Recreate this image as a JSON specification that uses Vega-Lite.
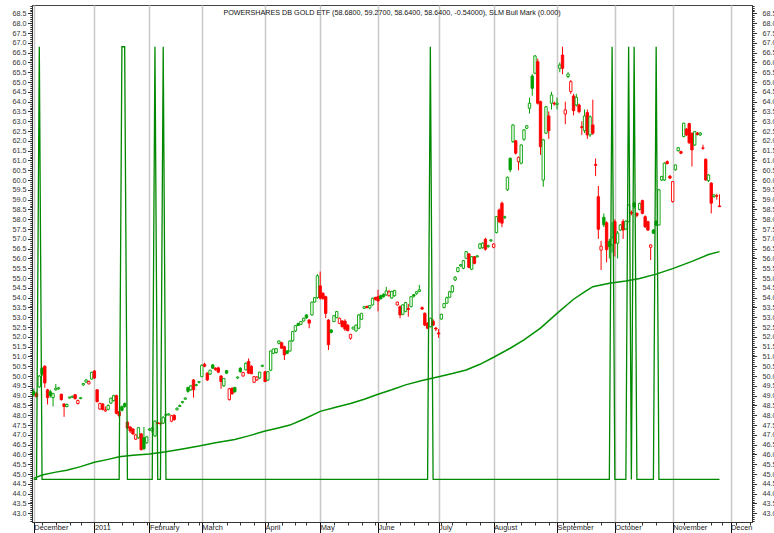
{
  "$schema": "https://vega.github.io/schema/vega-lite/v6.json",
  "width": 720,
  "height": 517,
  "autosize": {"type": "none"},
  "padding": {"left": 32, "top": 5, "right": 22, "bottom": 11},
  "background": "white",
  "config": {
    "view": {"stroke": "#444", "strokeWidth": 1},
    "scale": {"continuousPadding": 0},
    "axis": {"labelFont": "Liberation Sans", "labelColor": "#333", "domainColor": "#333", "tickColor": "#333", "grid": false}
  },
  "title": {"text": "POWERSHARES DB GOLD ETF (58.6800, 59.2700, 58.6400, 58.6400, -0.54000), SLM Bull Mark (0.000)", "anchor": "middle", "frame": "group", "font": "Liberation Sans", "fontSize": 7.2, "fontWeight": "normal", "color": "#111", "baseline": "top", "offset": -11.5},
  "datasets": {
    "candles": [
      {"i":0,"o":49.2,"h":49.35,"l":48.95,"c":49.05},{"i":1,"o":49.1,"h":49.2,"l":48.9,"c":48.95},{"i":2,"o":49.45,"h":50.05,"l":49.4,"c":50.0},{"i":3,"o":50.4,"h":50.45,"l":50.0,"c":50.1},{"i":4,"o":50.5,"h":50.55,"l":49.4,"c":49.65},
      {"i":5,"o":49.3,"h":49.35,"l":48.55,"c":48.9},{"i":6,"o":49.2,"h":49.3,"l":48.9,"c":49.0},{"i":7,"o":48.9,"h":49.15,"l":48.45,"c":49.1},{"i":8,"o":49.3,"h":49.6,"l":49.25,"c":49.38},{"i":9,"o":49.35,"h":49.45,"l":49.3,"c":49.4},
      {"i":10,"o":49.07,"h":49.1,"l":48.75,"c":48.8},{"i":11,"o":48.58,"h":48.6,"l":47.92,"c":48.45},{"i":12,"o":48.45,"h":48.6,"l":48.4,"c":48.55},{"i":13,"o":48.88,"h":48.95,"l":48.85,"c":48.93},{"i":14,"o":48.92,"h":49.0,"l":48.88,"c":48.97},
      {"i":15,"o":49.05,"h":49.08,"l":48.8,"c":48.85},{"i":16,"o":48.6,"h":48.8,"l":48.55,"c":48.75},{"i":17,"o":48.85,"h":48.92,"l":48.82,"c":48.9},{"i":18,"o":49.55,"h":49.65,"l":49.5,"c":49.62},{"i":19,"o":49.7,"h":49.85,"l":49.65,"c":49.8},
      {"i":20,"o":49.6,"h":49.78,"l":49.58,"c":49.72},{"i":21,"o":49.85,"h":50.22,"l":49.82,"c":50.19},{"i":22,"o":50.26,"h":50.3,"l":49.85,"c":49.9},{"i":23,"o":49.3,"h":49.32,"l":48.65,"c":48.7},{"i":24,"o":48.32,"h":48.65,"l":48.28,"c":48.6},
      {"i":25,"o":48.58,"h":48.62,"l":48.25,"c":48.3},{"i":26,"o":48.22,"h":48.45,"l":48.18,"c":48.28},{"i":27,"o":48.3,"h":48.55,"l":48.25,"c":48.5},{"i":28,"o":48.62,"h":48.9,"l":48.58,"c":48.87},{"i":29,"o":48.75,"h":49.05,"l":48.7,"c":49.0},
      {"i":30,"o":49.0,"h":49.05,"l":48.05,"c":48.1},{"i":31,"o":48.18,"h":48.2,"l":47.9,"c":47.98},{"i":32,"o":48.44,"h":48.5,"l":48.2,"c":48.25},{"i":33,"o":48.6,"h":48.65,"l":48.38,"c":48.45},{"i":34,"o":47.65,"h":47.7,"l":47.3,"c":47.35},
      {"i":35,"o":47.4,"h":47.45,"l":47.1,"c":47.2},{"i":36,"o":47.3,"h":47.35,"l":47.0,"c":47.05},{"i":37,"o":46.78,"h":47.05,"l":46.75,"c":47.0},{"i":38,"o":46.85,"h":47.4,"l":46.8,"c":47.37},{"i":39,"o":47.05,"h":47.1,"l":46.2,"c":46.25},
      {"i":40,"o":46.85,"h":47.4,"l":46.22,"c":46.3},{"i":41,"o":46.6,"h":46.95,"l":46.55,"c":46.9},{"i":42,"o":47.25,"h":47.35,"l":47.2,"c":47.3},{"i":43,"o":47.2,"h":47.4,"l":47.1,"c":47.35},{"i":44,"o":46.95,"h":47.75,"l":46.9,"c":47.7},
      {"i":45,"o":47.62,"h":47.65,"l":47.55,"c":47.58},{"i":46,"o":47.6,"h":47.62,"l":47.52,"c":47.56},{"i":47,"o":47.6,"h":47.95,"l":47.55,"c":47.9},{"i":48,"o":48.0,"h":48.08,"l":47.95,"c":48.05},{"i":49,"o":48.02,"h":48.1,"l":47.98,"c":48.07},
      {"i":50,"o":47.7,"h":48.02,"l":47.65,"c":47.98},{"i":51,"o":48.0,"h":48.05,"l":47.72,"c":47.78},{"i":52,"o":48.28,"h":48.4,"l":48.25,"c":48.36},{"i":53,"o":48.45,"h":48.55,"l":48.42,"c":48.5},{"i":54,"o":48.65,"h":48.72,"l":48.6,"c":48.7},
      {"i":55,"o":48.82,"h":48.92,"l":48.8,"c":48.88},{"i":56,"o":49.42,"h":49.45,"l":49.15,"c":49.22},{"i":57,"o":49.3,"h":49.55,"l":49.25,"c":49.5},{"i":58,"o":49.8,"h":49.85,"l":48.9,"c":49.3},{"i":59,"o":49.52,"h":49.6,"l":49.48,"c":49.56},
      {"i":60,"o":49.68,"h":49.75,"l":49.62,"c":49.72},{"i":61,"o":49.97,"h":50.6,"l":49.95,"c":50.55},{"i":62,"o":50.6,"h":50.68,"l":50.45,"c":50.5},{"i":63,"o":50.15,"h":50.2,"l":49.75,"c":49.8},{"i":64,"o":50.1,"h":50.32,"l":50.05,"c":50.3},
      {"i":65,"o":50.57,"h":50.62,"l":50.38,"c":50.4},{"i":66,"o":50.4,"h":50.45,"l":50.28,"c":50.32},{"i":67,"o":50.42,"h":50.48,"l":50.15,"c":50.2},{"i":68,"o":50.0,"h":50.05,"l":49.35,"c":49.72},{"i":69,"o":49.5,"h":49.9,"l":49.45,"c":49.88},
      {"i":70,"o":50.28,"h":50.3,"l":50.1,"c":50.15},{"i":71,"o":48.8,"h":49.4,"l":48.75,"c":49.35},{"i":72,"o":49.38,"h":49.42,"l":49.05,"c":49.1},{"i":73,"o":49.42,"h":49.45,"l":49.15,"c":49.2},{"i":74,"o":49.9,"h":49.98,"l":49.85,"c":49.95},
      {"i":75,"o":50.4,"h":50.45,"l":50.18,"c":50.22},{"i":76,"o":50.0,"h":50.22,"l":49.98,"c":50.18},{"i":77,"o":50.32,"h":50.7,"l":50.3,"c":50.65},{"i":78,"o":50.75,"h":50.9,"l":50.1,"c":50.15},{"i":79,"o":50.5,"h":50.55,"l":50.1,"c":50.12},
      {"i":80,"o":49.68,"h":50.0,"l":49.65,"c":49.97},{"i":81,"o":49.8,"h":50.0,"l":49.75,"c":49.95},{"i":82,"o":49.9,"h":50.22,"l":49.85,"c":50.2},{"i":83,"o":50.5,"h":50.58,"l":50.45,"c":50.55},{"i":84,"o":50.22,"h":50.25,"l":49.7,"c":49.72},
      {"i":85,"o":49.8,"h":50.25,"l":49.75,"c":50.22},{"i":86,"o":50.3,"h":51.3,"l":50.25,"c":51.28},{"i":87,"o":51.16,"h":51.4,"l":51.12,"c":51.38},{"i":88,"o":51.2,"h":51.42,"l":51.15,"c":51.4},{"i":89,"o":51.67,"h":51.82,"l":51.62,"c":51.79},
      {"i":90,"o":51.7,"h":51.75,"l":51.4,"c":51.42},{"i":91,"o":51.5,"h":51.55,"l":50.82,"c":51.08},{"i":92,"o":51.28,"h":51.32,"l":51.12,"c":51.16},{"i":93,"o":51.28,"h":51.82,"l":51.25,"c":51.79},{"i":94,"o":51.8,"h":52.3,"l":51.75,"c":52.27},
      {"i":95,"o":52.3,"h":52.6,"l":52.25,"c":52.57},{"i":96,"o":52.68,"h":52.72,"l":52.55,"c":52.58},{"i":97,"o":52.64,"h":52.8,"l":52.6,"c":52.78},{"i":98,"o":52.81,"h":52.98,"l":52.78,"c":52.95},{"i":99,"o":53.12,"h":53.15,"l":52.92,"c":52.97},
      {"i":100,"o":52.86,"h":52.9,"l":52.44,"c":52.7},{"i":101,"o":53.12,"h":53.8,"l":53.08,"c":53.77},{"i":102,"o":53.78,"h":54.02,"l":53.75,"c":54.0},{"i":103,"o":54.0,"h":55.2,"l":53.95,"c":55.12},{"i":104,"o":54.6,"h":55.33,"l":53.9,"c":53.98},
      {"i":105,"o":54.22,"h":54.28,"l":53.9,"c":53.95},{"i":106,"o":54.05,"h":54.1,"l":52.96,"c":53.2},{"i":107,"o":52.86,"h":52.9,"l":51.33,"c":51.6},{"i":108,"o":52.35,"h":52.4,"l":52.18,"c":52.23},{"i":109,"o":52.78,"h":53.1,"l":52.75,"c":53.08},
      {"i":110,"o":52.98,"h":53.32,"l":52.95,"c":53.29},{"i":111,"o":52.69,"h":52.98,"l":52.65,"c":52.95},{"i":112,"o":52.81,"h":52.85,"l":52.48,"c":52.52},{"i":113,"o":52.8,"h":52.9,"l":52.3,"c":52.4},{"i":114,"o":52.6,"h":52.65,"l":52.28,"c":52.32},
      {"i":115,"o":51.93,"h":52.15,"l":51.85,"c":52.13},{"i":116,"o":52.4,"h":52.52,"l":52.38,"c":52.5},{"i":117,"o":52.3,"h":52.62,"l":52.28,"c":52.6},{"i":118,"o":52.44,"h":53.15,"l":52.4,"c":53.12},{"i":119,"o":52.9,"h":53.22,"l":52.88,"c":53.2},
      {"i":120,"o":53.46,"h":53.56,"l":53.42,"c":53.54},{"i":121,"o":53.55,"h":53.6,"l":53.45,"c":53.5},{"i":122,"o":53.48,"h":53.62,"l":53.4,"c":53.6},{"i":123,"o":53.63,"h":54.0,"l":53.6,"c":53.97},{"i":124,"o":54.0,"h":54.05,"l":53.85,"c":53.92},
      {"i":125,"o":54.05,"h":54.4,"l":53.3,"c":53.83},{"i":126,"o":54.1,"h":54.15,"l":53.9,"c":53.95},{"i":127,"o":54.17,"h":54.22,"l":54.0,"c":54.05},{"i":128,"o":54.14,"h":54.55,"l":54.1,"c":54.34},{"i":129,"o":54.1,"h":54.4,"l":54.05,"c":54.3},
      {"i":130,"o":53.98,"h":54.35,"l":53.95,"c":54.32},{"i":131,"o":54.1,"h":54.4,"l":54.05,"c":54.36},{"i":132,"o":53.63,"h":53.8,"l":53.6,"c":53.77},{"i":133,"o":53.54,"h":53.6,"l":52.95,"c":53.12},{"i":134,"o":53.15,"h":53.66,"l":53.1,"c":53.63},
      {"i":135,"o":53.3,"h":53.78,"l":53.25,"c":53.75},{"i":136,"o":53.45,"h":53.68,"l":53.03,"c":53.4},{"i":137,"o":53.54,"h":54.08,"l":53.5,"c":54.05},{"i":138,"o":54.15,"h":54.18,"l":54.0,"c":54.08},{"i":139,"o":54.2,"h":54.33,"l":54.15,"c":54.3},
      {"i":140,"o":54.32,"h":54.65,"l":54.28,"c":54.4},{"i":141,"o":53.49,"h":53.55,"l":53.38,"c":53.42},{"i":142,"o":53.2,"h":53.25,"l":52.55,"c":52.6},{"i":143,"o":52.7,"h":52.75,"l":52.4,"c":52.44},{"i":144,"o":52.52,"h":52.98,"l":52.48,"c":52.95},
      {"i":145,"o":52.8,"h":52.9,"l":52.55,"c":52.6},{"i":146,"o":52.45,"h":52.5,"l":52.3,"c":52.4},{"i":147,"o":52.2,"h":52.4,"l":51.95,"c":52.15},{"i":148,"o":52.91,"h":53.18,"l":52.88,"c":53.15},{"i":149,"o":53.5,"h":53.72,"l":53.45,"c":53.7},
      {"i":150,"o":53.72,"h":54.05,"l":53.68,"c":54.0},{"i":151,"o":54.02,"h":54.35,"l":53.98,"c":54.3},{"i":152,"o":54.3,"h":54.65,"l":54.25,"c":54.6},{"i":153,"o":54.9,"h":55.1,"l":54.85,"c":55.04},{"i":154,"o":55.33,"h":55.56,"l":55.3,"c":55.53},
      {"i":155,"o":55.62,"h":55.72,"l":55.58,"c":55.68},{"i":156,"o":55.5,"h":55.92,"l":55.45,"c":55.89},{"i":157,"o":56.01,"h":56.38,"l":55.98,"c":56.35},{"i":158,"o":56.23,"h":56.28,"l":55.5,"c":55.55},{"i":159,"o":55.45,"h":56.12,"l":55.4,"c":56.09},
      {"i":160,"o":56.09,"h":56.12,"l":55.7,"c":55.75},{"i":161,"o":56.08,"h":56.18,"l":56.05,"c":56.13},{"i":162,"o":56.52,"h":56.78,"l":56.48,"c":56.74},{"i":163,"o":56.55,"h":56.82,"l":56.5,"c":56.78},{"i":164,"o":56.98,"h":57.05,"l":56.4,"c":56.47},
      {"i":165,"o":56.6,"h":56.7,"l":56.55,"c":56.65},{"i":166,"o":56.9,"h":56.98,"l":56.85,"c":56.95},{"i":167,"o":56.57,"h":56.78,"l":56.52,"c":56.74},{"i":168,"o":57.32,"h":58.16,"l":57.28,"c":58.13},{"i":169,"o":58.47,"h":58.55,"l":57.8,"c":57.88},
      {"i":170,"o":58.82,"h":58.9,"l":57.6,"c":57.8},{"i":171,"o":58.08,"h":58.18,"l":58.02,"c":58.13},{"i":172,"o":59.5,"h":60.18,"l":59.45,"c":60.14},{"i":173,"o":61.11,"h":61.15,"l":60.4,"c":60.52},{"i":174,"o":61.96,"h":62.85,"l":61.9,"c":62.81},
      {"i":175,"o":62.0,"h":62.05,"l":61.3,"c":61.37},{"i":176,"o":60.94,"h":61.2,"l":60.5,"c":61.16},{"i":177,"o":60.86,"h":61.82,"l":60.8,"c":61.79},{"i":178,"o":62.08,"h":62.6,"l":62.0,"c":62.56},{"i":179,"o":62.64,"h":62.8,"l":62.6,"c":62.77},
      {"i":180,"o":63.66,"h":64.2,"l":63.4,"c":63.92},{"i":181,"o":65.31,"h":65.4,"l":64.3,"c":64.68},{"i":182,"o":65.45,"h":66.38,"l":65.4,"c":66.33},{"i":183,"o":66.04,"h":66.2,"l":63.85,"c":63.92},{"i":184,"o":64.0,"h":64.05,"l":61.28,"c":61.7},
      {"i":185,"o":60.0,"h":62.1,"l":59.66,"c":62.05},{"i":186,"o":62.39,"h":63.78,"l":62.35,"c":63.74},{"i":187,"o":63.27,"h":63.5,"l":62.1,"c":62.52},{"i":188,"o":63.92,"h":64.5,"l":63.6,"c":64.34},{"i":189,"o":63.92,"h":64.0,"l":63.8,"c":63.88},
      {"i":190,"o":63.85,"h":64.2,"l":63.6,"c":63.92},{"i":191,"o":65.7,"h":66.0,"l":65.5,"c":65.87},{"i":192,"o":66.38,"h":66.8,"l":65.4,"c":65.7},{"i":193,"o":63.37,"h":64.0,"l":62.85,"c":63.58},{"i":194,"o":65.28,"h":65.5,"l":65.2,"c":65.41},
      {"i":195,"o":64.51,"h":65.1,"l":64.4,"c":65.02},{"i":196,"o":64.29,"h":64.4,"l":63.3,"c":63.54},{"i":197,"o":63.83,"h":64.4,"l":63.75,"c":64.22},{"i":198,"o":63.83,"h":63.9,"l":63.4,"c":63.49},{"i":199,"o":62.72,"h":63.0,"l":62.3,"c":62.68},
      {"i":200,"o":62.52,"h":63.6,"l":62.4,"c":63.27},{"i":201,"o":63.44,"h":63.6,"l":62.1,"c":62.3},{"i":202,"o":62.3,"h":63.3,"l":62.2,"c":63.23},{"i":203,"o":62.81,"h":64.1,"l":62.3,"c":62.39},{"i":204,"o":60.8,"h":61.1,"l":60.2,"c":60.75},
      {"i":205,"o":59.15,"h":59.7,"l":57.0,"c":57.49},{"i":206,"o":56.43,"h":56.9,"l":55.41,"c":56.62},{"i":207,"o":58.1,"h":58.3,"l":57.6,"c":57.72},{"i":208,"o":57.82,"h":57.9,"l":55.8,"c":56.45},{"i":209,"o":56.87,"h":57.0,"l":56.0,"c":56.6},
      {"i":210,"o":56.7,"h":57.85,"l":56.3,"c":57.05},{"i":211,"o":57.88,"h":58.0,"l":56.1,"c":56.78},{"i":212,"o":56.78,"h":57.4,"l":56.0,"c":57.29},{"i":213,"o":57.45,"h":57.75,"l":57.4,"c":57.71},{"i":214,"o":57.88,"h":58.0,"l":57.0,"c":57.45},
      {"i":215,"o":57.5,"h":57.95,"l":57.45,"c":57.9},{"i":216,"o":57.88,"h":58.76,"l":57.85,"c":58.73},{"i":217,"o":58.35,"h":58.45,"l":58.2,"c":58.3},{"i":218,"o":58.82,"h":58.9,"l":58.55,"c":58.64},{"i":219,"o":58.3,"h":58.35,"l":58.1,"c":58.2},
      {"i":220,"o":58.5,"h":58.85,"l":58.45,"c":58.8},{"i":221,"o":58.95,"h":59.0,"l":58.25,"c":58.3},{"i":222,"o":58.13,"h":58.2,"l":57.55,"c":57.62},{"i":223,"o":57.88,"h":57.92,"l":57.4,"c":57.45},{"i":224,"o":56.57,"h":56.72,"l":55.92,"c":56.69},
      {"i":225,"o":57.45,"h":57.5,"l":57.25,"c":57.29},{"i":226,"o":57.9,"h":57.95,"l":57.65,"c":57.7},{"i":227,"o":57.71,"h":59.55,"l":57.68,"c":59.5},{"i":228,"o":60.0,"h":60.22,"l":59.95,"c":60.18},{"i":229,"o":60.0,"h":60.9,"l":59.95,"c":60.86},
      {"i":230,"o":60.94,"h":61.0,"l":60.8,"c":60.84},{"i":231,"o":60.2,"h":60.25,"l":60.05,"c":60.1},{"i":232,"o":58.9,"h":59.95,"l":58.85,"c":59.92},{"i":233,"o":60.52,"h":60.8,"l":60.48,"c":60.77},{"i":234,"o":61.5,"h":61.68,"l":61.45,"c":61.65},
      {"i":235,"o":61.45,"h":61.5,"l":61.32,"c":61.37},{"i":236,"o":62.22,"h":62.93,"l":62.18,"c":62.9},{"i":237,"o":62.6,"h":62.65,"l":62.25,"c":62.3},{"i":238,"o":62.88,"h":62.92,"l":61.85,"c":61.9},{"i":239,"o":62.39,"h":62.42,"l":60.69,"c":61.54},
      {"i":240,"o":61.79,"h":62.5,"l":61.75,"c":62.47},{"i":241,"o":62.4,"h":62.45,"l":62.28,"c":62.32},{"i":242,"o":62.3,"h":62.45,"l":62.25,"c":62.4},{"i":243,"o":61.64,"h":61.8,"l":61.55,"c":61.62},{"i":244,"o":61.06,"h":61.1,"l":59.98,"c":60.0},
      {"i":245,"o":59.97,"h":60.3,"l":59.9,"c":60.26},{"i":246,"o":59.84,"h":59.9,"l":58.3,"c":58.82},{"i":247,"o":59.15,"h":59.28,"l":59.1,"c":59.24},{"i":248,"o":59.2,"h":59.3,"l":59.0,"c":59.18},{"i":249,"o":58.68,"h":59.27,"l":58.64,"c":58.64}
    ],
    "ma": [
      {"i":0,"v":44.78},{"i":3,"v":44.95},{"i":8,"v":45.1},{"i":12,"v":45.2},{"i":17,"v":45.38},{"i":22,"v":45.6},{"i":27,"v":45.75},{"i":31,"v":45.88},{"i":36,"v":45.96},{"i":42,"v":46.02},{"i":48,"v":46.14},{"i":54,"v":46.28},{"i":60,"v":46.43},{"i":66,"v":46.6},{"i":73,"v":46.77},{"i":78,"v":46.95},{"i":84,"v":47.2},{"i":88,"v":47.33},{"i":93,"v":47.5},{"i":98,"v":47.8},{"i":104,"v":48.2},{"i":110,"v":48.42},{"i":115,"v":48.6},{"i":120,"v":48.82},{"i":125,"v":49.07},{"i":130,"v":49.3},{"i":135,"v":49.55},{"i":141,"v":49.77},{"i":147,"v":49.97},{"i":152,"v":50.13},{"i":157,"v":50.31},{"i":162,"v":50.6},{"i":167,"v":50.96},{"i":173,"v":51.42},{"i":178,"v":51.85},{"i":184,"v":52.45},{"i":190,"v":53.2},{"i":196,"v":53.92},{"i":200,"v":54.3},{"i":203,"v":54.56},{"i":209,"v":54.73},{"i":215,"v":54.85},{"i":220,"v":54.98},{"i":226,"v":55.2},{"i":232,"v":55.48},{"i":239,"v":55.85},{"i":245,"v":56.2},{"i":249,"v":56.35}
    ],
    "bull": [
      {"i":0,"v":44.73},{"i":1,"v":44.73},{"i":2,"v":66.8},{"i":3,"v":44.73},{"i":31,"v":44.73},{"i":32,"v":66.8},{"i":33,"v":66.8},{"i":34,"v":44.73},{"i":43,"v":44.73},{"i":44,"v":66.8},{"i":45,"v":44.73},{"i":46,"v":44.73},{"i":47,"v":66.8},{"i":48,"v":44.73},{"i":143,"v":44.73},{"i":144,"v":66.8},{"i":145,"v":44.73},{"i":209,"v":44.73},{"i":210,"v":66.8},{"i":211,"v":44.73},{"i":215,"v":44.73},{"i":216,"v":66.8},{"i":217,"v":44.73},{"i":218,"v":66.8},{"i":219,"v":44.73},{"i":225,"v":44.73},{"i":226,"v":66.8},{"i":227,"v":44.73},{"i":249,"v":44.73}
    ]
  },
  "resolve": {"scale": {"x": "shared", "y": "shared"}, "axis": {"x": "independent", "y": "independent"}},
  "layer": [
    {
      "data": {"name": "candles"},
      "transform": [{"window": [{"op": "lag", "field": "c", "as": "pc"}], "sort": [{"field": "i"}]}],
      "mark": {"type": "rule", "strokeWidth": 1},
      "encoding": {
        "x": {"field": "i", "type": "quantitative", "scale": {"domain": [-0.65, 260.8], "nice": false, "zero": false, "padding": 0},
              "axis": {"title": null, "orient": "bottom", "values": [0,22,42,61,84,104,125,147,167,190,211,232,253], "grid": true, "gridColor": "#c8c8c8", "gridWidth": 1.5, "tickSize": 11, "tickColor": "#111", "labelAlign": "left", "labelBaseline": "top", "labelPadding": -10, "labelDx": 2, "labelFontSize": 7.4, "labelColor": "#222", "labelOverlap": false, "labelFlush": false,
                       "labelExpr": "datum.value == 0 ? 'December' : datum.value == 22 ? '2011' : datum.value == 42 ? 'February' : datum.value == 61 ? 'March' : datum.value == 84 ? 'April' : datum.value == 104 ? 'May' : datum.value == 125 ? 'June' : datum.value == 147 ? 'July' : datum.value == 167 ? 'August' : datum.value == 190 ? 'September' : datum.value == 211 ? 'October' : datum.value == 232 ? 'November' : 'Decen'"}},
        "y": {"field": "l", "type": "quantitative", "scale": {"domain": [42.556, 68.93], "nice": false, "zero": false},
              "axis": {"title": null, "orient": "left", "values": [43,43.5,44,44.5,45,45.5,46,46.5,47,47.5,48,48.5,49,49.5,50,50.5,51,51.5,52,52.5,53,53.5,54,54.5,55,55.5,56,56.5,57,57.5,58,58.5,59,59.5,60,60.5,61,61.5,62,62.5,63,63.5,64,64.5,65,65.5,66,66.5,67,67.5,68,68.5], "format": ".1f", "tickSize": 4.5, "labelPadding": 1.5, "labelFontSize": 7.2, "labelOverlap": false, "labelFlush": false}},
        "y2": {"field": "h"},
        "color": {"condition": {"test": "datum.pc == null || datum.c >= datum.pc", "value": "#00a000"}, "value": "#ff0000"}
      }
    },
    {
      "data": {"name": "candles"},
      "transform": [{"window": [{"op": "lag", "field": "c", "as": "pc"}], "sort": [{"field": "i"}]}],
      "mark": {"type": "bar", "width": 2.4, "strokeWidth": 0.9},
      "encoding": {
        "x": {"field": "i", "type": "quantitative", "scale": {"domain": [-0.65, 260.8], "nice": false, "zero": false, "padding": 0},
              "axis": {"title": null, "orient": "bottom", "values": [3,8,13,17,27,32,36,41,46,51,56,60,65,70,75,80,85,90,95,99,109,114,119,124,128,133,138,143,148,152,157,162,172,177,182,187,192,196,201,206,216,221,226,236,241,246,250,255,260], "labels": false, "domain": false, "tickSize": 3, "grid": false}},
        "y": {"field": "o", "type": "quantitative", "scale": {"domain": [42.556, 68.93], "nice": false, "zero": false},
              "axis": {"title": null, "orient": "left", "values": [42.6,42.7,42.8,42.9,43.1,43.2,43.3,43.4,43.6,43.7,43.8,43.9,44.1,44.2,44.3,44.4,44.6,44.7,44.8,44.9,45.1,45.2,45.3,45.4,45.6,45.7,45.8,45.9,46.1,46.2,46.3,46.4,46.6,46.7,46.8,46.9,47.1,47.2,47.3,47.4,47.6,47.7,47.8,47.9,48.1,48.2,48.3,48.4,48.6,48.7,48.8,48.9,49.1,49.2,49.3,49.4,49.6,49.7,49.8,49.9,50.1,50.2,50.3,50.4,50.6,50.7,50.8,50.9,51.1,51.2,51.3,51.4,51.6,51.7,51.8,51.9,52.1,52.2,52.3,52.4,52.6,52.7,52.8,52.9,53.1,53.2,53.3,53.4,53.6,53.7,53.8,53.9,54.1,54.2,54.3,54.4,54.6,54.7,54.8,54.9,55.1,55.2,55.3,55.4,55.6,55.7,55.8,55.9,56.1,56.2,56.3,56.4,56.6,56.7,56.8,56.9,57.1,57.2,57.3,57.4,57.6,57.7,57.8,57.9,58.1,58.2,58.3,58.4,58.6,58.7,58.8,58.9,59.1,59.2,59.3,59.4,59.6,59.7,59.8,59.9,60.1,60.2,60.3,60.4,60.6,60.7,60.8,60.9,61.1,61.2,61.3,61.4,61.6,61.7,61.8,61.9,62.1,62.2,62.3,62.4,62.6,62.7,62.8,62.9,63.1,63.2,63.3,63.4,63.6,63.7,63.8,63.9,64.1,64.2,64.3,64.4,64.6,64.7,64.8,64.9,65.1,65.2,65.3,65.4,65.6,65.7,65.8,65.9,66.1,66.2,66.3,66.4,66.6,66.7,66.8,66.9,67.1,67.2,67.3,67.4,67.6,67.7,67.8,67.9,68.1,68.2,68.3,68.4,68.6,68.7,68.8,68.9], "labels": false, "domain": false, "tickSize": 2.2}},
        "y2": {"field": "c"},
        "stroke": {"condition": {"test": "datum.pc == null || datum.c >= datum.pc", "value": "#00a000"}, "value": "#ff0000"},
        "fill": {"condition": [{"test": "datum.c > datum.o", "value": "#ffffff"}, {"test": "datum.pc == null || datum.c >= datum.pc", "value": "#00a000"}], "value": "#ff0000"}
      }
    },
    {
      "data": {"name": "ma"},
      "mark": {"type": "line", "color": "#009000", "strokeWidth": 1.5},
      "encoding": {
        "x": {"field": "i", "type": "quantitative", "scale": {"domain": [-0.65, 260.8], "nice": false, "zero": false, "padding": 0}, "axis": null},
        "y": {"field": "v", "type": "quantitative", "scale": {"domain": [42.556, 68.93], "nice": false, "zero": false},
              "axis": {"title": null, "orient": "right", "values": [43,43.5,44,44.5,45,45.5,46,46.5,47,47.5,48,48.5,49,49.5,50,50.5,51,51.5,52,52.5,53,53.5,54,54.5,55,55.5,56,56.5,57,57.5,58,58.5,59,59.5,60,60.5,61,61.5,62,62.5,63,63.5,64,64.5,65,65.5,66,66.5,67,67.5,68,68.5], "format": ".1f", "tickSize": 4.5, "labelPadding": 5.5, "labelFontSize": 7.2, "labelOverlap": false, "labelFlush": false}}
      }
    },
    {
      "data": {"name": "bull"},
      "mark": {"type": "line", "color": "#008800", "strokeWidth": 1.3},
      "encoding": {
        "x": {"field": "i", "type": "quantitative", "scale": {"domain": [-0.65, 260.8], "nice": false, "zero": false, "padding": 0}, "axis": null},
        "y": {"field": "v", "type": "quantitative", "scale": {"domain": [42.556, 68.93], "nice": false, "zero": false},
              "axis": {"title": null, "orient": "right", "values": [42.6,42.7,42.8,42.9,43.1,43.2,43.3,43.4,43.6,43.7,43.8,43.9,44.1,44.2,44.3,44.4,44.6,44.7,44.8,44.9,45.1,45.2,45.3,45.4,45.6,45.7,45.8,45.9,46.1,46.2,46.3,46.4,46.6,46.7,46.8,46.9,47.1,47.2,47.3,47.4,47.6,47.7,47.8,47.9,48.1,48.2,48.3,48.4,48.6,48.7,48.8,48.9,49.1,49.2,49.3,49.4,49.6,49.7,49.8,49.9,50.1,50.2,50.3,50.4,50.6,50.7,50.8,50.9,51.1,51.2,51.3,51.4,51.6,51.7,51.8,51.9,52.1,52.2,52.3,52.4,52.6,52.7,52.8,52.9,53.1,53.2,53.3,53.4,53.6,53.7,53.8,53.9,54.1,54.2,54.3,54.4,54.6,54.7,54.8,54.9,55.1,55.2,55.3,55.4,55.6,55.7,55.8,55.9,56.1,56.2,56.3,56.4,56.6,56.7,56.8,56.9,57.1,57.2,57.3,57.4,57.6,57.7,57.8,57.9,58.1,58.2,58.3,58.4,58.6,58.7,58.8,58.9,59.1,59.2,59.3,59.4,59.6,59.7,59.8,59.9,60.1,60.2,60.3,60.4,60.6,60.7,60.8,60.9,61.1,61.2,61.3,61.4,61.6,61.7,61.8,61.9,62.1,62.2,62.3,62.4,62.6,62.7,62.8,62.9,63.1,63.2,63.3,63.4,63.6,63.7,63.8,63.9,64.1,64.2,64.3,64.4,64.6,64.7,64.8,64.9,65.1,65.2,65.3,65.4,65.6,65.7,65.8,65.9,66.1,66.2,66.3,66.4,66.6,66.7,66.8,66.9,67.1,67.2,67.3,67.4,67.6,67.7,67.8,67.9,68.1,68.2,68.3,68.4,68.6,68.7,68.8,68.9], "labels": false, "domain": false, "tickSize": 2.2}}
      }
    }
  ]
}
